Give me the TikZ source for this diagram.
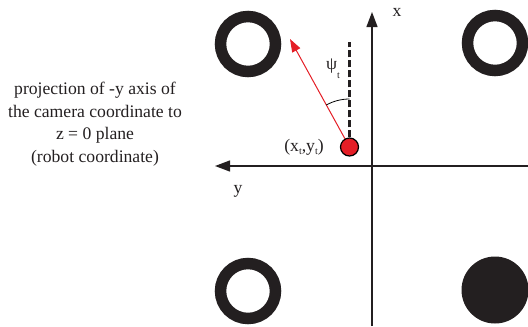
\documentclass[tikz,border=0pt]{standalone}
\usepackage{fontspec}
\setmainfont{Liberation Serif}
\usetikzlibrary{arrows.meta}
\definecolor{ringblack}{HTML}{231F20}
\definecolor{dotred}{HTML}{E41E26}
\begin{document}
\begin{tikzpicture}[x=1bp,y=-1bp,
  ring/.style={circle,draw=ringblack,line width=11.5bp,minimum size=55bp,inner sep=0pt},
  disk/.style={circle,fill=ringblack,minimum size=67bp,inner sep=0pt},
  axisline/.style={draw=ringblack,line width=1.3bp,-{Triangle[length=15bp,width=11bp]}},
  lbl/.style={font=\fontsize{17.7}{22.7}\selectfont,inner sep=0pt,text=ringblack},
  robot/.style={circle,draw=black,fill=dotred,line width=1.2bp,minimum size=18bp,inner sep=0pt},
  heading/.style={draw=ringblack,line width=2.5bp,dash pattern=on 7bp off 3bp},
  viewray/.style={draw=dotred,line width=1bp,-{Triangle[length=13bp,width=9bp]}},
  anglearc/.style={draw=black,line width=0.8bp}
]
\useasboundingbox (0,0) rectangle (528,326);
% landmarks
\node[ring] (r1) at (248,44) {};
\node[ring] (r2) at (495,43) {};
\node[ring] (r3) at (248,291) {};
\node[disk] (d4) at (495,290) {};
% axes
\coordinate (xstart) at (372,326);
\coordinate (xtip) at (372,12);
\coordinate (ystart) at (528,166);
\coordinate (ytip) at (215,166);
\draw[axisline] (xstart) -- (xtip);
\draw[axisline] (ystart) -- (ytip);
\node[lbl] (xlab) at (397,12) {x};
\node[lbl] (ylab) at (238,191) {y};
% robot
\node[robot] (dot) at (349.5,147) {};
\coordinate (dtop) at (349.5,42);
\draw[heading] (dot.north) -- (dtop);
\coordinate (tip) at (290,39);
\draw[viewray] (dot) -- (tip);
\draw[anglearc] (dot.center) ++(0,-48) arc[start angle=-90,end angle=-118.9,radius=48];
\node[lbl,anchor=base west] (psi) at (326,69) {ψ\raisebox{-9bp}{\fontsize{10}{10}\selectfont t}};
\node[lbl] (pos) at (304,147) {(x\raisebox{-3bp}{\fontsize{10}{10}\selectfont t},y\raisebox{-3bp}{\fontsize{10}{10}\selectfont t})};
% caption
\node[lbl,align=center] (caption) at (95,124) {projection of -y axis of\\the camera coordinate to\\z = 0 plane\\(robot coordinate)};
\end{tikzpicture}
\end{document}
